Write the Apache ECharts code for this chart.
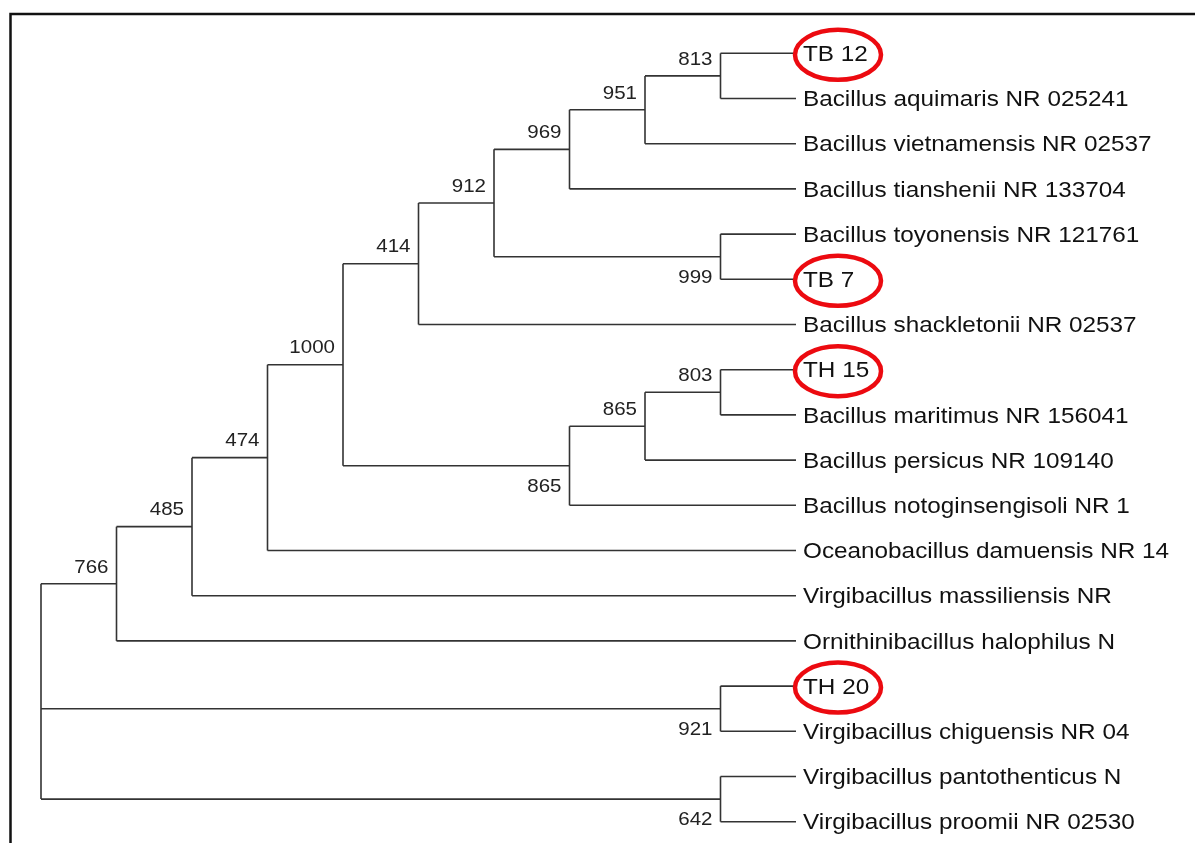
<!DOCTYPE html>
<html>
<head>
<meta charset="utf-8">
<script src="https://cdn.jsdelivr.net/npm/echarts@6/dist/echarts.min.js"></script>
<style>
  html, body { margin: 0; padding: 0; background: #ffffff; }
  #chart { width: 1195px; height: 843px; }
</style>
</head>
<body>
<div id="chart"></div>
<script>
// ---- Data ----
const leafNames = [
  'TB 12',
  'Bacillus aquimaris NR 025241',
  'Bacillus vietnamensis NR 02537',
  'Bacillus tianshenii NR 133704',
  'Bacillus toyonensis NR 121761',
  'TB 7',
  'Bacillus shackletonii NR 02537',
  'TH 15',
  'Bacillus maritimus NR 156041',
  'Bacillus persicus NR 109140',
  'Bacillus notoginsengisoli NR 1',
  'Oceanobacillus damuensis NR 14',
  'Virgibacillus massiliensis NR',
  'Ornithinibacillus halophilus N',
  'TH 20',
  'Virgibacillus chiguensis NR 04',
  'Virgibacillus pantothenticus N',
  'Virgibacillus proomii NR 02530'
];
const highlightedLeaves = ['TB 12', 'TB 7', 'TH 15', 'TH 20'];
// clade children: 'L#' = leaf index, 'C#' = clade index (C0 = root)
const cladeChildren = [
  ['C1', 'C14', 'C15'],
  ['C2', 'L13'],
  ['C3', 'L12'],
  ['C4', 'L11'],
  ['C5', 'C11'],
  ['C6', 'L6'],
  ['C7', 'C10'],
  ['C8', 'L3'],
  ['C9', 'L2'],
  ['L0', 'L1'],
  ['L4', 'L5'],
  ['C12', 'L10'],
  ['C13', 'L9'],
  ['L7', 'L8'],
  ['L14', 'L15'],
  ['L16', 'L17']
];
const cladeSupport = [null, 766, 485, 474, 1000, 414, 912, 969, 951, 813, 999, 865, 865, 803, 921, 642];

// ---- Layout (cladogram: x = level, y = leaf index) ----
function heightOf(ref) {
  if (ref[0] === 'L') return 0;
  const kids = cladeChildren[+ref.slice(1)];
  return 1 + Math.max(...kids.map(heightOf));
}
const maxLevel = heightOf('C0');
function xOf(ref) { return maxLevel - heightOf(ref); }
function yOf(ref) {
  if (ref[0] === 'L') return +ref.slice(1);
  const kids = cladeChildren[+ref.slice(1)];
  return (yOf(kids[0]) + yOf(kids[kids.length - 1])) / 2;
}

const segments = [];
const supportLabels = [];
cladeChildren.forEach((kids, ci) => {
  const ref = 'C' + ci;
  const x = xOf(ref);
  segments.push([x, yOf(kids[0]), x, yOf(kids[kids.length - 1])]);
  kids.forEach((k, ki) => {
    const yk = yOf(k);
    segments.push([x, yk, xOf(k), yk]);
    if (k[0] === 'C') {
      const idx = +k.slice(1);
      supportLabels.push([xOf(k), yk, cladeSupport[idx], ki === 0 ? 0 : 1]);
    }
  });
});
const leafData = leafNames.map((n, i) => [maxLevel, i, n]);
const highlightData = leafNames
  .map((n, i) => [maxLevel, i, n])
  .filter(d => highlightedLeaves.indexOf(d[2]) >= 0);

// ---- Chart ----
const chart = echarts.init(document.getElementById('chart'), null, { renderer: 'canvas' });
const FONT = '"Liberation Sans", Arial, sans-serif';
chart.setOption({
  animation: false,
  backgroundColor: '#ffffff',
  grid: { left: 41, right: 399, top: 53.3, bottom: 21.3 },
  xAxis: { type: 'value', min: 0, max: maxLevel, show: false },
  yAxis: { type: 'value', min: 0, max: leafNames.length - 1, inverse: true, show: false },
  graphic: [{
    type: 'polyline',
    shape: { points: [[10.5, 843], [10.5, 14], [1195, 14]] },
    style: { stroke: '#111111', lineWidth: 2.5, fill: 'none' }
  }],
  series: [
    {
      type: 'custom',
      coordinateSystem: 'cartesian2d',
      data: segments,
      encode: { x: [0, 2], y: [1, 3] },
      renderItem: function (params, api) {
        const p1 = api.coord([api.value(0), api.value(1)]);
        const p2 = api.coord([api.value(2), api.value(3)]);
        return {
          type: 'line',
          shape: { x1: p1[0], y1: p1[1], x2: p2[0], y2: p2[1] },
          style: { stroke: '#333333', lineWidth: 1.6 }
        };
      }
    },
    {
      type: 'custom',
      coordinateSystem: 'cartesian2d',
      data: leafData,
      encode: { x: 0, y: 1 },
      renderItem: function (params, api) {
        const p = api.coord([api.value(0), api.value(1)]);
        return {
          type: 'text',
          x: p[0] + 7,
          y: p[1] + 1.5,
          scaleX: 1.08,
          style: {
            text: leafData[params.dataIndex][2],
            font: '22.5px ' + FONT,
            fill: '#111111',
            align: 'left',
            verticalAlign: 'middle'
          }
        };
      }
    },
    {
      type: 'custom',
      coordinateSystem: 'cartesian2d',
      data: supportLabels,
      encode: { x: 0, y: 1 },
      renderItem: function (params, api) {
        const p = api.coord([api.value(0), api.value(1)]);
        const below = api.value(3) === 1;
        return {
          type: 'text',
          x: p[0] - 8,
          y: p[1] + (below ? 21 : -16.5),
          scaleX: 1.08,
          style: {
            text: String(supportLabels[params.dataIndex][2]),
            font: '19px ' + FONT,
            fill: '#222222',
            align: 'right',
            verticalAlign: 'middle'
          }
        };
      }
    },
    {
      type: 'custom',
      coordinateSystem: 'cartesian2d',
      data: highlightData,
      encode: { x: 0, y: 1 },
      renderItem: function (params, api) {
        const p = api.coord([api.value(0), api.value(1)]);
        return {
          type: 'ellipse',
          shape: { cx: p[0] + 42, cy: p[1] + 1.5, rx: 43, ry: 25 },
          style: { fill: 'none', stroke: '#ec0a10', lineWidth: 4.5 }
        };
      }
    }
  ]
});
</script>
</body>
</html>
